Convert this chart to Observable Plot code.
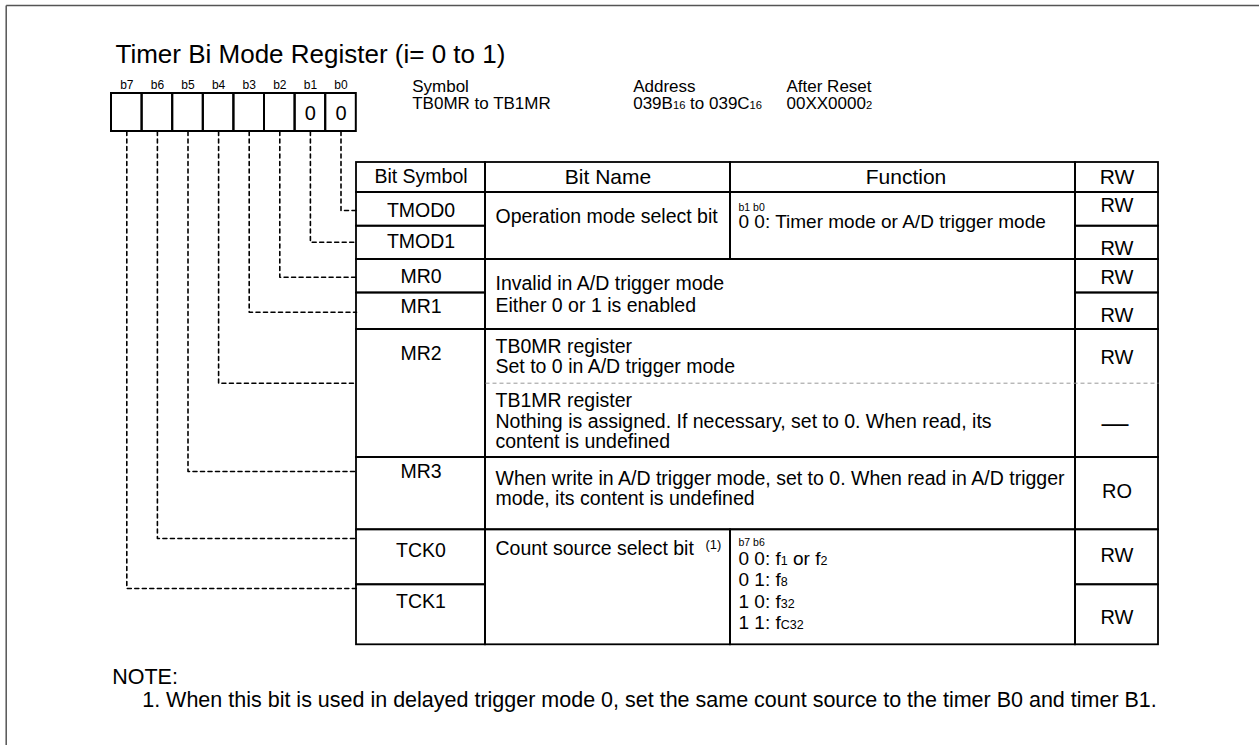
<!DOCTYPE html>
<html><head><meta charset="utf-8">
<script src="https://cdn.jsdelivr.net/npm/d3@7"></script>
<script src="https://cdn.jsdelivr.net/npm/@observablehq/plot@0.6"></script>
<style>
html,body{margin:0;padding:0;background:#fff;overflow:hidden;}
svg{display:block;}
</style>
</head><body><div id="chart"></div>
<script>
// ---------------- data (content only) ----------------
const title = "Timer Bi Mode Register (i= 0 to 1)";
const bitLabels = ["b7","b6","b5","b4","b3","b2","b1","b0"];
const bitResetValues = ["","","","","","","0","0"];
const infoLabels = ["Symbol","Address","After Reset"];
const infoValues = ["TB0MR to TB1MR","039B_{16} to 039C_{16}","00XX0000_{2}"];
const headers = ["Bit Symbol","Bit Name","Function","RW"];
// bit symbols listed b0 .. b7
const bitSymbols = ["TMOD0","TMOD1","MR0","MR1","MR2","MR3","TCK0","TCK1"];
const bitNames = [
  "Operation mode select bit",
  "Invalid in A/D trigger mode\nEither 0 or 1 is enabled",
  "TB0MR register\nSet to 0 in A/D trigger mode",
  "TB1MR register\nNothing is assigned. If necessary, set to 0. When read, its\ncontent is undefined",
  "When write in A/D trigger mode, set to 0. When read in A/D trigger\nmode, its content is undefined",
  "Count source select bit^{(1)}"
];
const functionHeads = ["b1 b0","b7 b6"];
const functionTexts = [
  "0 0: Timer mode or A/D trigger mode",
  "0 0: f_{1} or f_{2}\n0 1: f_{8}\n1 0: f_{32}\n1 1: f_{C32}"
];
// TMOD0, TMOD1, MR0, MR1, MR2 (TB0MR), MR2 (TB1MR), MR3, TCK0, TCK1
const rwValues = ["RW","RW","RW","RW","RW","—","RO","RW","RW"];
const noteTitle = "NOTE:";
const notes = ["1. When this bit is used in delayed trigger mode 0, set the same count source to the timer B0 and timer B1."];

// ---------------- layout (positions / sizes) ----------------
const W = 1259, H = 745;
const FONT = "'Liberation Sans', Arial, Helvetica, sans-serif";
const COL = [356, 485, 730, 1075, 1158];
const ROWS = {
  head:[162,192], TMOD0:[192,225.7], TMOD1:[225.7,259], MR0:[259,292.5], MR1:[292.5,329],
  MR2:[329,457], MR3:[457,529.3], TCK0:[529.3,584.3], TCK1:[584.3,644.3]
};
const MR2split = 382.7;
const cellBox = {x0:111, w:30.6, y0:93, y1:131};
const symY = [210,241.7,276.7,306,353.3,471,550,601.7];
const rwY = [205,248.3,276.7,315,356.7,423.3,490.7,555,616.7];
const nameY = [216,283.3,346.7,400,478.3,548.3];
const nameGap = [0,22.4,20,20.8,20,0];
const funcY = [221.5,558.5], funcGap = 21.3, funcHeadY = [206.7,541.7];
const leaderY = [588,538,471,382.7,311.7,276.7,241.7,210]; // b7..b0
const infoX = [411.7,632.7,786];

// ---------------- derived tables ----------------
const colX = (a,b)=>({x1:COL[a], x2:COL[b]});
const cells = [];
headers.forEach((h,i)=>cells.push({...colX(i,i+1), y1:ROWS.head[0], y2:ROWS.head[1]}));
bitSymbols.forEach(s=>{
  cells.push({...colX(0,1), y1:ROWS[s][0], y2:ROWS[s][1]});
  cells.push({...colX(3,4), y1:ROWS[s][0], y2:ROWS[s][1]});
});
cells.push({...colX(1,2), y1:ROWS.TMOD0[0], y2:ROWS.TMOD1[1]});
cells.push({...colX(2,3), y1:ROWS.TMOD0[0], y2:ROWS.TMOD1[1]});
cells.push({...colX(1,3), y1:ROWS.MR0[0], y2:ROWS.MR1[1]});
cells.push({...colX(1,3), y1:ROWS.MR2[0], y2:ROWS.MR2[1]});
cells.push({...colX(1,3), y1:ROWS.MR3[0], y2:ROWS.MR3[1]});
cells.push({...colX(1,2), y1:ROWS.TCK0[0], y2:ROWS.TCK1[1]});
cells.push({...colX(2,3), y1:ROWS.TCK0[0], y2:ROWS.TCK1[1]});

const bitCells = bitLabels.map((b,i)=>({
  b, v: bitResetValues[i],
  x1: cellBox.x0 + i*cellBox.w, x2: cellBox.x0 + (i+1)*cellBox.w,
  cx: cellBox.x0 + (i+0.5)*cellBox.w
}));
const leaders = bitCells.flatMap((c,i)=>[
  {b:c.b, x:c.cx, y:cellBox.y1},
  {b:c.b, x:c.cx, y:leaderY[i]},
  {b:c.b, x:COL[0], y:leaderY[i]}
]);
const symTexts = bitSymbols.map((s,i)=>({t:s, y:symY[i]}));
const rwTexts = rwValues.map((r,i)=>({t:r, y:rwY[i]}));
const nameLines = bitNames.flatMap((n,i)=>n.split("\n").map((t,j)=>({t, y:nameY[i]+j*nameGap[i]})));
const funcLines = functionTexts.flatMap((f,i)=>f.split("\n").map((t,j)=>({t, y:funcY[i]+j*funcGap})));
const funcHeadTexts = functionHeads.map((t,i)=>({t, y:funcHeadY[i]}));
const headerTexts = headers.map((h,i)=>({t:h, x:(COL[i]+COL[i+1])/2 + (i===2?3:0)}));
const infoTexts = infoLabels.flatMap((l,i)=>[{t:l,x:infoX[i],y:86.5},{t:infoValues[i],x:infoX[i],y:103}]);

const svg = Plot.plot({
  width: W, height: H, margin: 0,
  x: {domain:[0,W], range:[0,W], axis:null},
  y: {domain:[0,H], range:[0,H], axis:null},
  style: {fontFamily: FONT, color:"#000", background:"#fff"},
  marks: [
    // frame
    Plot.link([{x1:5.7,y1:5,x2:W,y2:5},{x1:5.7,y1:5,x2:5.7,y2:H}], {x1:"x1",y1:"y1",x2:"x2",y2:"y2", stroke:"#555", strokeWidth:1.5}),
    // title
    Plot.text([title], {x:115, y:54, text:d=>d, textAnchor:"start", fontSize:26}),
    // bit register boxes
    Plot.rect(bitCells, {x1:"x1", x2:"x2", y1:cellBox.y0, y2:cellBox.y1, fill:"none", stroke:"#000", strokeWidth:2}),
    Plot.text(bitCells, {x:"cx", y:85, text:"b", fontSize:12}),
    Plot.text(bitCells, {x:"cx", y:113, text:"v", fontSize:20}),
    // symbol / address / reset
    Plot.text(infoTexts, {x:"x", y:"y", text:"t", textAnchor:"start", fontSize:17}),
    // dashed leaders
    Plot.line(leaders, {x:"x", y:"y", z:"b", stroke:"#000", strokeWidth:1.6, strokeDasharray:"4,3.5"}),
    // table
    Plot.rect(cells, {x1:"x1", x2:"x2", y1:"y1", y2:"y2", fill:"none", stroke:"#000", strokeWidth:1.8}),
    Plot.link([{x1:COL[1], x2:COL[4], y:MR2split}], {x1:"x1", x2:"x2", y1:"y", y2:"y", stroke:"#999", strokeWidth:1, strokeDasharray:"4,3"}),
    Plot.text(headerTexts.slice(0,1), {x:"x", y:176.7, text:"t", fontSize:19.5}),
    Plot.text(headerTexts.slice(1,3), {x:"x", y:176.7, text:"t", fontSize:21}),
    Plot.text(headerTexts.slice(3), {x:"x", y:176.7, text:"t", fontSize:21}),
    Plot.text(symTexts, {x:(COL[0]+COL[1])/2, y:"y", text:"t", fontSize:19.5}),
    Plot.text(rwTexts.filter(d=>d.t!=="—"), {x:(COL[3]+COL[4])/2, y:"y", text:"t", fontSize:20}),
    Plot.text(rwTexts.filter(d=>d.t==="—"), {x:(COL[3]+COL[4])/2 - 2, y:"y", text:"t", fontSize:27}),
    Plot.text(nameLines, {x:495, y:"y", text:"t", textAnchor:"start", fontSize:19.5}),
    Plot.text(funcHeadTexts, {x:738, y:"y", text:"t", textAnchor:"start", fontSize:10.5}),
    Plot.text(funcLines, {x:738, y:"y", text:"t", textAnchor:"start", fontSize:19}),
    // notes
    Plot.text([noteTitle], {x:111.7, y:676.7, text:d=>d, textAnchor:"start", fontSize:21.5}),
    Plot.text(notes, {x:141.7, y:700, text:d=>d, textAnchor:"start", fontSize:21.5})
  ]
});

// rich text: _{sub} and ^{sup}
(function richify(root){
  const re = /(_\{[^}]*\}|\^\{[^}]*\})/;
  root.querySelectorAll("text, tspan").forEach(el=>{
    if (el.children.length) return;
    const s = el.textContent;
    if (!re.test(s)) return;
    const fsEl = el.closest("[font-size]");
    const fs = fsEl ? parseFloat(fsEl.getAttribute("font-size")) : 16;
    el.textContent = "";
    for (const p of s.split(re)) {
      if (!p) continue;
      const t = document.createElementNS("http://www.w3.org/2000/svg","tspan");
      if (p.startsWith("_{")) { t.textContent = p.slice(2,-1); t.setAttribute("font-size", (fs*0.66).toFixed(1)); }
      else if (p.startsWith("^{")) { t.textContent = p.slice(2,-1); t.setAttribute("font-size", (fs*0.66).toFixed(1)); t.setAttribute("dx", (fs*0.6).toFixed(1)); t.setAttribute("dy", (-fs*0.3).toFixed(1)); }
      else t.textContent = p;
      el.appendChild(t);
    }
  });
})(svg);

document.getElementById("chart").appendChild(svg);
</script>
</body></html>
